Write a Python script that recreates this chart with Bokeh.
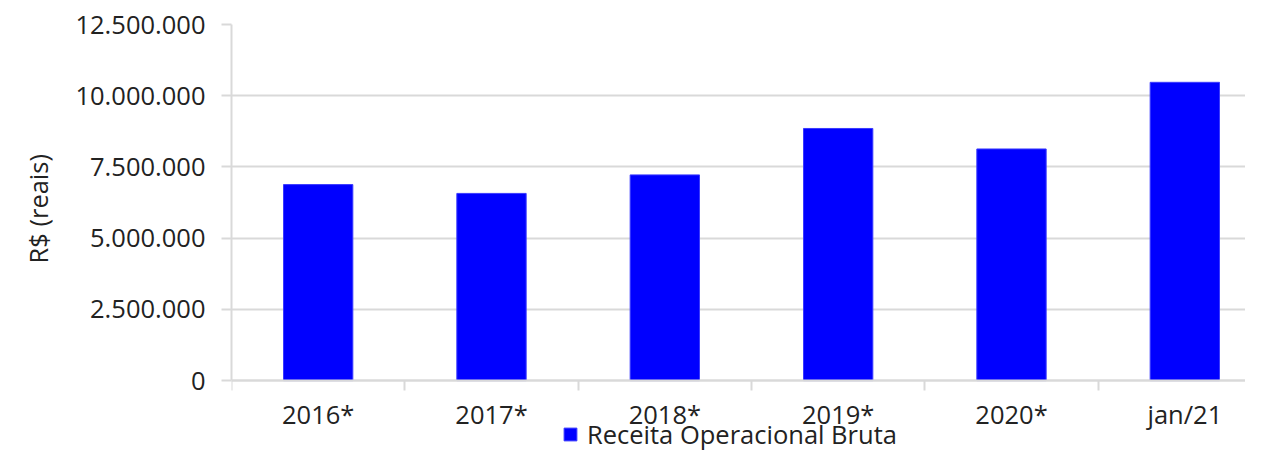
from bokeh.plotting import figure
from bokeh.models import Range1d, FixedTicker, Legend, LegendItem, ColumnDataSource, Title
from bokeh.embed import file_html
from bokeh.resources import INLINE

# ---- data ----
categories = ["2016*", "2017*", "2018*", "2019*", "2020*", "jan/21"]
receita = [6880000, 6570000, 7220000, 8850000, 8130000, 10470000]
y_ticks = [0, 2500000, 5000000, 7500000, 10000000, 12500000]
y_tick_labels = ["0", "2.500.000", "5.000.000", "7.500.000", "10.000.000", "12.500.000"]
series_name = "Receita Operacional Bruta"
y_axis_title = "R$ (reais)"

# ---- build ----
xpos = [i + 0.5 for i in range(len(categories))]
source = ColumnDataSource(dict(x=xpos, top=receita, cat=categories))

FONT = "Open Sans"
FS = "25.5px"
TXT = "#222222"
GRID = "#d9d9d9"

# frame reaches the canvas bottom; the value axis runs from 0 to 12.5M,
# the space below 0 holds the category labels and the legend
p = figure(width=1245, height=451, output_backend="svg", toolbar_location=None,
           x_range=Range1d(0, 5.85), y_range=Range1d(-2490000, 12500000),
           min_border_left=227, min_border_right=0, min_border_top=24, min_border_bottom=0)
p.outline_line_color = None
p.background_fill_color = "white"
p.border_fill_color = "white"

r = p.vbar(x="x", top="top", width=0.4, source=source,
           fill_color="#0000FF", line_color="#3a3aff", line_width=1)

# x axis drawn at value 0
xa = p.xaxis[0]
xa.fixed_location = 0
xa.ticker = FixedTicker(ticks=xpos, minor_ticks=list(range(len(categories) + 1)))
xa.major_label_overrides = {x: c for x, c in zip(xpos, categories)}
xa.major_tick_out = 0
xa.major_tick_in = 0
xa.minor_tick_out = 10
xa.minor_tick_in = 0
xa.minor_tick_line_color = GRID
xa.minor_tick_line_width = 2
xa.axis_line_color = GRID
xa.axis_line_width = 2
xa.major_label_standoff = 6
xa.major_label_text_font = FONT
xa.major_label_text_font_size = FS
xa.major_label_text_color = TXT

# y axis
ya = p.yaxis[0]
ya.bounds = (y_ticks[0], y_ticks[-1])
ya.ticker = FixedTicker(ticks=y_ticks)
ya.major_label_overrides = {t: l for t, l in zip(y_ticks, y_tick_labels)}
ya.major_tick_out = 10
ya.major_tick_in = 0
ya.major_tick_line_color = GRID
ya.major_tick_line_width = 2
ya.minor_tick_line_color = None
ya.axis_line_color = GRID
ya.axis_line_width = 2
ya.major_label_standoff = 16
ya.major_label_text_font = FONT
ya.major_label_text_font_size = FS
ya.major_label_text_color = TXT

# y axis title, placed along the 0..12.5M span
ytitle = Title(text=y_axis_title, align="left", offset=188, standoff=36,
               text_font=FONT, text_font_size=FS, text_font_style="normal",
               text_color=TXT)
p.add_layout(ytitle, "left")

p.xgrid.grid_line_color = None
p.ygrid.grid_line_color = GRID
p.ygrid.grid_line_width = 2

legend = Legend(items=[LegendItem(label=series_name, renderers=[r])],
                location=(331, 0), orientation="horizontal",
                padding=0, margin=0, spacing=0,
                glyph_width=16, glyph_height=16, label_standoff=9,
                label_text_font=FONT, label_text_font_size=FS, label_text_color=TXT,
                border_line_color=None, background_fill_alpha=0)
p.add_layout(legend, "center")

open("out.html", "w").write(file_html(p, INLINE))
